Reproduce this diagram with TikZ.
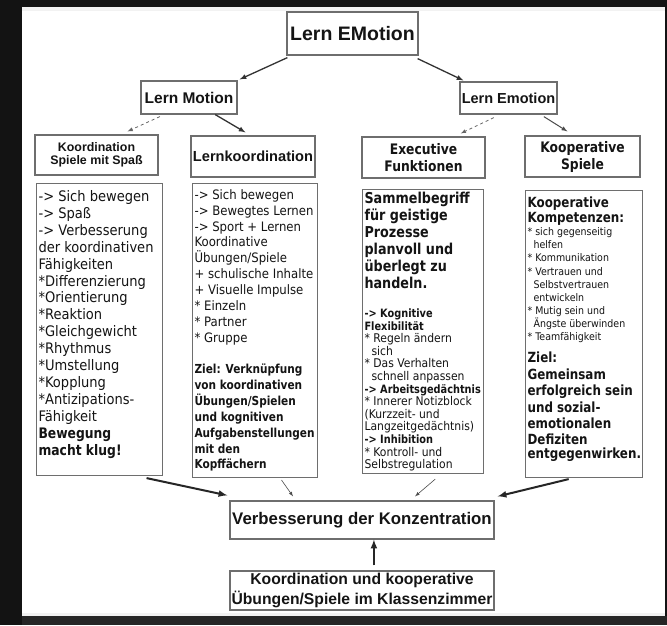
\documentclass[tikz,border=0pt]{standalone}
\usepackage{fontspec}
\setmainfont{Liberation Sans}
\newfontfamily\tahoma[FakeStretch=0.9,BoldFeatures={FakeStretch=0.85}]{DejaVu Sans}
\usepackage{tikz}
\usetikzlibrary{arrows.meta,calc}
\definecolor{frame}{HTML}{6E6E6E}
\definecolor{ink}{HTML}{141414}
\definecolor{night}{HTML}{131313}
\newcommand{\fs}[2]{\fontsize{#1}{#2}\selectfont}
\newcommand{\colbody}[3]{\parbox[t][#2][t]{#1}{\raggedright\rightskip=-30pt plus 1fil #3}}
\tikzset{
  title/.style={draw=frame,line width=1.2pt,fill=white,text=ink,inner sep=0pt},
  body/.style={draw=frame,line width=1.1pt,fill=white,text=ink,anchor=north west,
    inner xsep=2pt,inner ysep=3pt,font=\tahoma},
  push/.style={-latex,line width=2pt,black!85},
  lead/.style={-latex,line width=1.3pt,black!80},
  hint/.style={-latex,line width=0.6pt,black!70},
  maybe/.style={-latex,dashed,line width=0.8pt,black!60}
}

\begin{document}
\begin{tikzpicture}[x=1pt,y=-1pt]
    \useasboundingbox (0,0) rectangle (667,625);
    \fill[night] (0,0) rectangle (667,625);
    \fill[black!85] (22,616) rectangle (667,625);
    \fill[black!5] (22,7) rectangle (665,616);
    \fill[white] (22,11) rectangle (665,613);

    % top level
    \node[title,minimum width=131pt,minimum height=43pt,font=\bfseries\fs{19.5}{22}] (emotion) at (352.5,33.5) {Lern EMotion};
    \node[title,minimum width=96pt,minimum height=33pt,font=\bfseries\fs{15.5}{18}] (motion) at (189,97.5) {Lern Motion};
    \node[title,minimum width=97pt,minimum height=32pt,font=\bfseries\fs{14.5}{17}] (emo) at (508.5,98) {Lern Emotion};

    % column heads
    \node[title,minimum width=123pt,minimum height=40pt,align=center,font=\bfseries\fs{12.4}{13}] (spiele) at (96.5,155) {Koordination\\Spiele mit Spaß};
    \node[title,minimum width=124pt,minimum height=41pt,font=\bfseries\fs{14.6}{17}] (lernko) at (253,156.5) {Lernkoordination};
    \node[title,minimum width=123pt,minimum height=41pt,align=center,font=\tahoma\bfseries\fs{14.5}{17}] (exec) at (423.5,157.5) {Executive\\Funktionen};
    \node[title,minimum width=115pt,minimum height=41pt,align=center,font=\tahoma\bfseries\fs{14.5}{17}] (koop) at (582.5,156.5) {Kooperative\\Spiele};

    % column texts
    \node[body] (spieletext) at (36,183) {\colbody{122pt}{286pt}{\vspace*{4pt}\fs{14.5}{16.9}%
      -> Sich bewegen\\ -> Spaß\\ -> Verbesserung\\ der koordinativen\\ Fähigkeiten\\
      {}*Differenzierung\\{}*Orientierung\\{}*Reaktion\\{}*Gleichgewicht\\{}*Rhythmus\\
      {}*Umstellung\\{}*Kopplung\\{}*Antizipations-\\ Fähigkeit\\
      {\bfseries Bewegung\\ macht klug!}}};
    \node[body] (lernkotext) at (192,183) {\colbody{121pt}{288pt}{\vspace*{3pt}\fs{13}{15.85}%
      -> Sich bewegen\\ -> Bewegtes Lernen\\ -> Sport + Lernen\\ Koordinative\\
      Übungen/Spiele\\ + schulische Inhalte\\ + Visuelle Impulse\\
      {}* Einzeln\\{}* Partner\\{}* Gruppe\\[15.85pt]
      {\bfseries\fs{12.4}{15.85}Ziel: Verknüpfung\\ von koordinativen\\ Übungen/Spielen\\
      und kognitiven\\ Aufgabenstellungen\\ mit den\\ Kopffächern}}};
    \node[body] (exectext) at (362,189) {\colbody{117pt}{278pt}{%
      {\bfseries\fs{15}{17}Sammelbegriff\\ für geistige\\ Prozesse\\ planvoll und\\
      überlegt zu\\ handeln.\par}
      \vspace{16pt}\fs{12}{12.6}%
      {\bfseries\fs{11.5}{12.6}-> Kognitive\\ Flexibilität\\}
      {}* Regeln ändern\\ \hspace*{7pt}sich\\{}* Das Verhalten\\ \hspace*{7pt}schnell anpassen\\
      {\bfseries\fs{11.5}{12.6}-> Arbeitsgedächtnis\\}
      {}* Innerer Notizblock\\ (Kurzzeit- und\\ Langzeitgedächtnis)\\
      {\bfseries\fs{11.5}{12.6}-> Inhibition\\}
      {}* Kontroll- und\\ Selbstregulation}};
    \node[body] (kooptext) at (525,190) {\colbody{113pt}{281pt}{\vspace*{3pt}%
      {\bfseries\fs{14}{15.5}Kooperative\\ Kompetenzen:\par}
      \vspace{0pt}\fs{10.5}{13.1}%
      {}* sich gegenseitig\\ \hspace*{6pt}helfen\\{}* Kommunikation\\{}* Vertrauen und\\
      \hspace*{6pt}Selbstvertrauen\\ \hspace*{6pt}entwickeln\\{}* Mutig sein und\\
      \hspace*{6pt}Ängste überwinden\\{}* Teamfähigkeit\par
      \vspace{6pt}
      {\bfseries\fs{14}{16.4}Ziel:\\ Gemeinsam\\ erfolgreich sein\\ und sozial-\\
      emotionalen\\ Defiziten\\ entgegenwirken.}}};

    % bottom
    \node[title,minimum width=264pt,minimum height=38pt,font=\bfseries\fs{16.8}{19}] (verb) at (362,520) {Verbesserung der Konzentration};
    \node[title,minimum width=264pt,minimum height=39pt,align=center,font=\bfseries\fs{15.7}{19.5}] (klasse) at (362,590.5) {Koordination und kooperative\\Übungen/Spiele im Klassenzimmer};

    % arrows
    \draw[lead] ($(emotion.south west)+(1,2)$) -- ($(motion.north east)+(2,-1)$);
    \draw[lead] ($(emotion.south east)+(-1,3)$) -- ($(emo.north west)+(4,-1)$);
    \draw[maybe] ($(motion.south west)!0.2!(motion.south east)+(0,2)$) -- ($(spiele.north west)!0.75!(spiele.north east)+(0,-3)$);
    \draw[lead] ($(motion.south west)!0.77!(motion.south east)$) -- ($(lernko.north west)!0.44!(lernko.north east)+(0,-3)$);
    \draw[maybe] ($(emo.south west)!0.35!(emo.south east)+(0,3)$) -- ($(exec.north west)!0.8!(exec.north east)+(0,-3)$);
    \draw[hint,line width=1pt] ($(emo.south west)!0.86!(emo.south east)+(0,2)$) -- ($(koop.north west)!0.37!(koop.north east)+(0,-4)$);

    \draw[push] ($(spieletext.south west)!0.87!(spieletext.south east)+(0,2)$) -- ($(verb.north west)+(-2,-5)$);
    \draw[hint] ($(lernkotext.south west)!0.71!(lernkotext.south east)+(0,2)$) -- ($(verb.north west)!0.24!(verb.north east)+(0,-4)$);
    \draw[hint] ($(exectext.south west)!0.6!(exectext.south east)+(0,5)$) -- ($(verb.north west)!0.7!(verb.north east)+(0,-4)$);
    \draw[push] ($(kooptext.south west)!0.37!(kooptext.south east)+(0,1)$) -- ($(verb.north east)+(3,-4)$);
    \draw[push] ($(klasse.north west)!0.545!(klasse.north east)+(0,-5)$) -- ($(verb.south west)!0.545!(verb.south east)$);
\end{tikzpicture}
\end{document}
